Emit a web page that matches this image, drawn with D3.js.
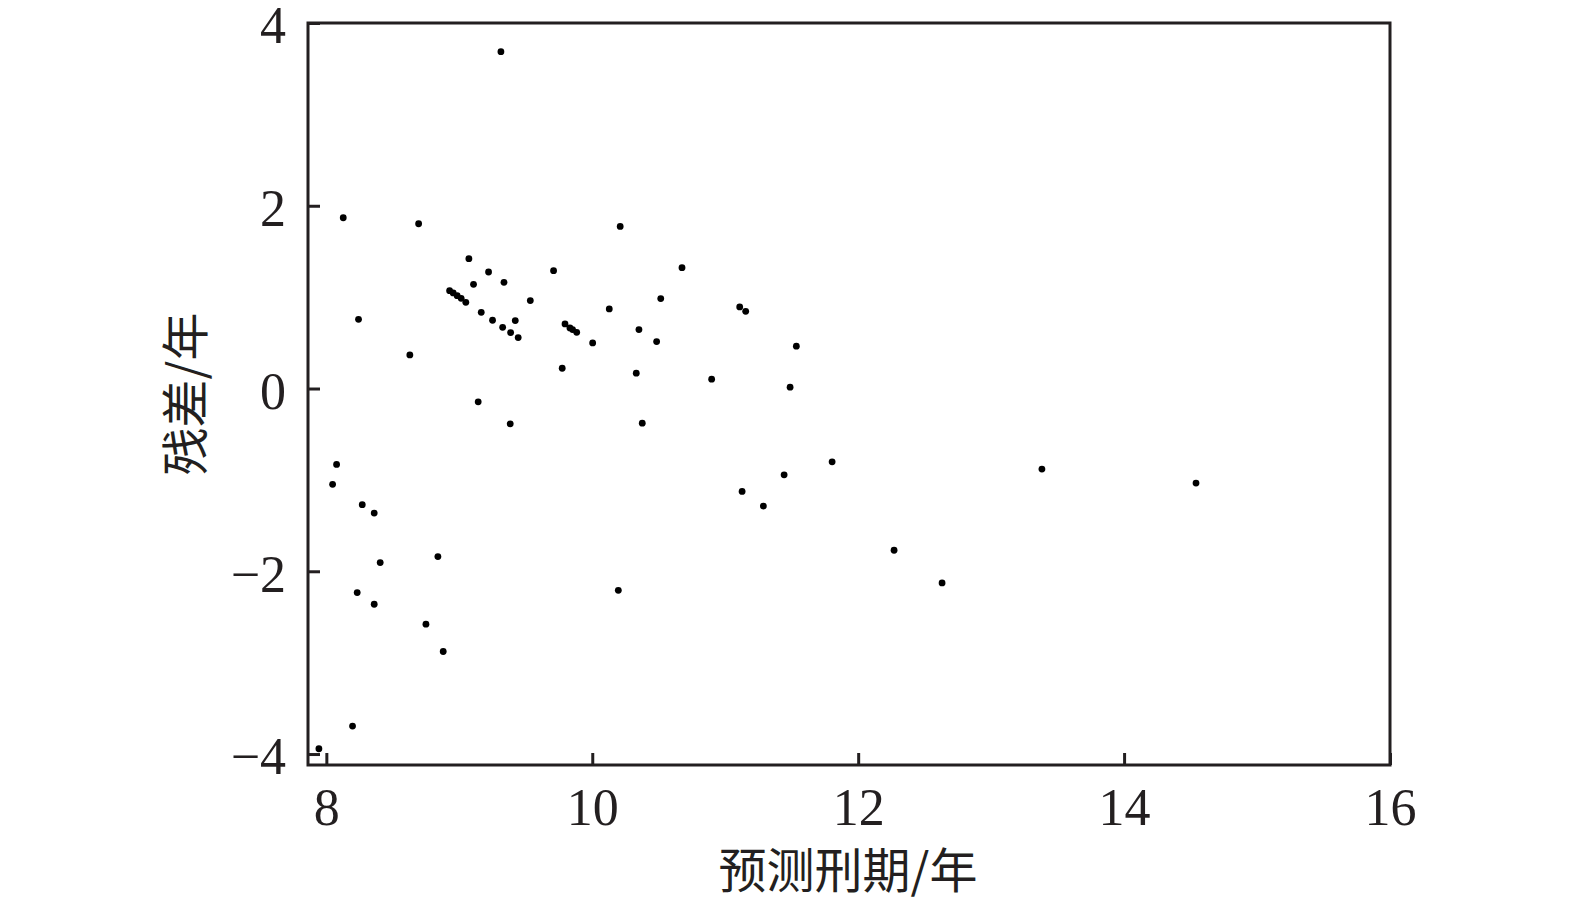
<!DOCTYPE html>
<html>
<head>
<meta charset="utf-8">
<script src="https://cdn.jsdelivr.net/npm/d3@7"></script>
<style>
  html, body { margin: 0; padding: 0; background: #fff; }
  svg { display: block; }
</style>
</head>
<body>
<svg id="chart" width="1575" height="907"></svg>
<script>
// Predicted sentence (years)
const predicted = [
  9.313, 8.127, 8.694, 10.210, 9.072, 9.220, 9.709, 9.336, 9.107,
  8.927, 8.954, 8.984, 9.014, 9.049, 9.534, 10.128, 8.242, 9.165,
  9.250, 9.421, 9.326, 9.386, 9.443, 9.795, 9.832, 9.852, 9.883,
  10.003, 8.628, 9.774, 9.142, 10.675, 10.515, 11.109, 11.154,
  10.351, 10.484, 11.535, 10.331, 10.898, 11.488, 9.383, 8.077,
  8.047, 8.270, 8.360, 8.405, 8.839, 10.196, 8.232, 8.360, 8.749,
  8.879, 8.197, 7.944, 10.376, 11.127, 11.287, 11.443, 11.804,
  12.270, 12.631, 13.382, 14.541
];
// Residuals (years)
const residual = [
  3.686, 1.869, 1.803, 1.774, 1.421, 1.275, 1.290, 1.162, 1.140,
  1.071, 1.046, 1.016, 0.987, 0.943, 0.962, 0.871, 0.757, 0.834,
  0.747, 0.743, 0.670, 0.612, 0.557, 0.707, 0.663, 0.645, 0.615,
  0.499, 0.368, 0.222, -0.146, 1.322, 0.984, 0.893, 0.845,
  0.645, 0.514, 0.463, 0.168, 0.102, 0.015, -0.386, -0.831,
  -1.049, -1.271, -1.363, -1.905, -1.839, -2.208, -2.233, -2.361, -2.579,
  -2.878, -3.694, -3.942, -0.379, -1.126, -1.286, -0.944, -0.802,
  -1.770, -2.127, -0.882, -1.035
];
const xTicks = [8, 10, 12, 14, 16];
const yTicks = [-4, -2, 0, 2, 4];
const xTitle = "预测刑期/年";
const yTitle = "残差/年";

const svg = d3.select("#chart");
const plotLeft = 308, plotRight = 1390, plotTop = 23, plotBottom = 765;

const x = d3.scaleLinear().domain([7.862, 16]).range([plotLeft, plotRight]);
const y = d3.scaleLinear().domain([-4.12, 4]).range([plotBottom, plotTop]);

const numFont = "'Liberation Serif', 'Times New Roman', serif";
const cjkFont = "'Noto Sans CJK SC', 'Noto Sans', sans-serif";

// axes
const xAxis = d3.axisBottom(x).tickValues(xTicks).tickSize(-12).tickPadding(23)
  .tickFormat(d => d3.format("d")(d));
const yAxis = d3.axisLeft(y).tickValues(yTicks).tickSize(-12).tickPadding(22)
  .tickFormat(d => (d < 0 ? "\u2212" : "") + Math.abs(d));

const gx = svg.append("g").attr("transform", `translate(0,${plotBottom})`).call(xAxis);
const gy = svg.append("g").attr("transform", `translate(${plotLeft},0)`).call(yAxis);

[gx, gy].forEach(g => {
  g.select(".domain").remove();
  g.selectAll(".tick line").attr("stroke", "#231f20").attr("stroke-width", 3);
  g.selectAll(".tick text")
    .attr("fill", "#231f20")
    .style("font-family", numFont)
    .style("font-size", "52px");
});
gy.selectAll(".tick text").attr("dy", "0.38em");

// frame
svg.append("rect")
  .attr("x", plotLeft).attr("y", plotTop)
  .attr("width", plotRight - plotLeft).attr("height", plotBottom - plotTop)
  .attr("fill", "none").attr("stroke", "#231f20").attr("stroke-width", 3);

// points
svg.append("g").selectAll("circle")
  .data(predicted.map((p, i) => [p, residual[i]]))
  .join("circle")
  .attr("cx", d => x(d[0]))
  .attr("cy", d => y(d[1]))
  .attr("r", 3.4)
  .attr("fill", "#000");

// titles
svg.append("text")
  .attr("x", 848).attr("y", 888)
  .attr("text-anchor", "middle")
  .attr("fill", "#231f20")
  .style("font-family", cjkFont)
  .style("font-size", "48px")
  .text(xTitle);

svg.append("text")
  .attr("transform", "translate(203,394) rotate(-90)")
  .attr("text-anchor", "middle")
  .attr("fill", "#231f20")
  .style("font-family", cjkFont)
  .style("font-size", "48px")
  .text(yTitle);
</script>
</body>
</html>
